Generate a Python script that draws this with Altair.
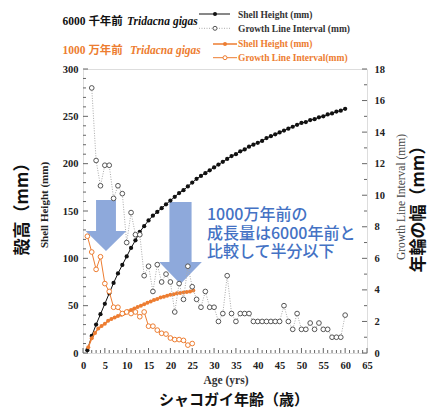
import altair as alt
import pandas as pd

# ---------------- data ----------------
ages_6000 = list(range(1, 61))
height_6000 = [3, 18, 30, 41, 52, 63, 74, 84, 93, 102,
               111, 119, 128, 134, 140, 145, 149, 153, 157, 161,
               165, 169, 172, 176, 180, 184, 187, 190, 193, 196,
               199, 202, 205, 208, 210, 213, 215, 218, 220, 222,
               224, 227, 229, 231, 233, 235, 237, 239, 241, 243,
               244, 246, 247, 249, 250, 252, 253, 255, 256, 258]

interval_ages_6000 = list(range(2, 61))
interval_6000 = [16.8, 12.2, 10.6, 11.9, 11.9, 9.8, 10.6, 10.1, 7.0, 8.9,
                 7.5, 7.5, 4.9, 5.5, 3.9, 5.6, 4.5, 5.0, 4.5, 2.6,
                 4.4, 3.4, 5.5, 4.2, 3.4, 2.9, 3.9, 2.9, 2.9, 2.0,
                 2.5, 4.9, 2.5, 2.0, 2.5, 2.5, 2.5, 2.0, 2.0, 2.0,
                 2.0, 2.0, 2.0, 2.0, 3.0, 2.0, 1.5, 2.5, 1.5, 1.5,
                 1.9, 1.5, 1.9, 1.5, 1.5, 1.0, 1.0, 1.0, 2.4]

ages_10m_height = [1.2, 2.0, 2.75, 3.5, 4.25, 5.0, 5.75, 6.5, 7.25, 8.0,
                   8.75, 9.5, 10.25, 11.0, 11.75, 12.5, 13.25, 14.0, 14.75, 15.5,
                   16.25, 17.0, 17.75, 18.5, 19.25, 20.0, 20.75, 21.5, 22.25, 23.0,
                   23.75, 24.5, 25.25]
height_10m = [6, 15.5, 21, 26, 28.5, 31, 34, 36, 37.5, 39,
              40.5, 42, 44, 45.5, 47, 48.5, 50, 51.5, 53, 54.5,
              56, 57, 58.5, 59.5, 60.5, 61.5, 62, 63, 63.5, 64,
              64.5, 65, 66]

ages_10m_interval = list(range(1, 26))
interval_10m = [7.4, 6.4, 5.3, 6.1, 4.4, 3.9, 2.9, 2.9, 2.5, 2.6,
                2.5, 2.6, 2.3, 2.6, 1.7, 1.7, 1.45, 1.25, 1.2, 0.95,
                0.85, 0.85, 0.8, 0.5, 0.6]

x_tick_labels = [0, 5, 10, 15, 20, 25, 30, 35, 40, 45, 50, 55, 60, 65]
left_tick_labels = [0, 50, 100, 150, 200, 250, 300]
right_tick_labels = [0, 2, 4, 6, 8, 10, 12, 14, 16, 18]

# ---------------- styling ----------------
W = H = 284
ORANGE = "#ED7D31"
BLUE_TXT = "#4472C4"
ARROW = "#8EA9DB"
SERIF = "Liberation Serif"
MIXED = "'Liberation Serif', 'Noto Sans CJK JP'"
CJK = "Noto Sans CJK JP"

xscale = alt.Scale(domain=[0, 65], nice=False, zero=False)
yl_scale = alt.Scale(domain=[0, 300], nice=False)
yr_scale = alt.Scale(domain=[0, 18], nice=False)

lab = dict(ticks=False, domain=False, grid=False, title=None,
           labelFont=SERIF, labelFontWeight="bold", labelFontSize=10.5,
           labelColor="#222", labelFlush=False, labelOverlap=False)
x_axis = alt.Axis(values=x_tick_labels, labelPadding=7, **lab)
yl_axis = alt.Axis(values=left_tick_labels, labelPadding=5, orient="left", **lab)
yr_axis = alt.Axis(values=right_tick_labels, labelPadding=7, orient="right", **lab)

X = alt.X("age:Q", scale=xscale, axis=x_axis)
YL = alt.Y("v:Q", scale=yl_scale, axis=yl_axis)
YR = alt.Y("v:Q", scale=yr_scale, axis=yr_axis)

one = pd.DataFrame({"k": [0]})


def series(df, yenc, line_color, line_width, dash, filled, pt_color, pt_size):
    base = alt.Chart(df).encode(x=X, y=yenc)
    kw = dict(color=line_color, strokeWidth=line_width)
    if dash:
        kw["strokeDash"] = dash
    ln = base.mark_line(**kw)
    if filled:
        pt = base.mark_point(filled=True, color=pt_color, size=pt_size, opacity=1)
    else:
        pt = base.mark_point(filled=False, fill="white", stroke=pt_color,
                             size=pt_size, strokeWidth=1, opacity=1)
    return [ln, pt]


def text(txt, x, y, size, font, weight="bold", color="#222", angle=0,
         align="left", italic=False):
    kw = dict(text=txt, font=font, fontSize=size, fontWeight=weight,
              color=color, align=align, baseline="middle")
    if angle:
        kw["angle"] = angle
    if italic:
        kw["fontStyle"] = "italic"
    return alt.Chart(one).mark_text(**kw).encode(x=alt.value(x), y=alt.value(y))


def arrow(cx, cy, shaft, head, base, size):
    path = (f"M{-shaft},-1L{shaft},-1L{shaft},{base}L{head},{base}L0,1"
            f"L{-head},{base}L{-shaft},{base}Z")
    return alt.Chart(one).mark_point(shape=path, filled=True, size=size,
                                     color=ARROW, opacity=1, strokeWidth=0).encode(
        x=alt.value(cx), y=alt.value(cy))


def hrule(x1, x2, y, color, width=1, dash=None):
    kw = dict(color=color, strokeWidth=width)
    if dash:
        kw["strokeDash"] = dash
    return alt.Chart(one).mark_rule(**kw).encode(
        x=alt.value(x1), x2=alt.value(x2), y=alt.value(y))


def marker(x, y, color, filled, size=22):
    if filled:
        m = alt.Chart(one).mark_point(filled=True, color=color, size=size, opacity=1)
    else:
        m = alt.Chart(one).mark_point(filled=False, fill="white", stroke=color,
                                      size=size, strokeWidth=1, opacity=1)
    return m.encode(x=alt.value(x), y=alt.value(y))


# ---------------- frames ----------------
df_h6 = pd.DataFrame({"age": ages_6000, "v": height_6000})
df_i6 = pd.DataFrame({"age": interval_ages_6000, "v": interval_6000})
df_h10 = pd.DataFrame({"age": ages_10m_height, "v": height_10m})
df_i10 = pd.DataFrame({"age": ages_10m_interval, "v": interval_10m})

# inward ticks drawn through the scales
xt_minor = pd.DataFrame({"age": [t for t in range(0, 66) if t % 5]})
xt_major = pd.DataFrame({"age": [t for t in range(0, 66, 5)]})
yl_minor = pd.DataFrame({"v": [t for t in range(0, 301, 10) if t % 50]})
yl_major = pd.DataFrame({"v": list(range(0, 301, 50))})
yr_minor = pd.DataFrame({"v": [t for t in range(0, 19) if t % 2]})
yr_major = pd.DataFrame({"v": list(range(0, 19, 2))})

tick_col = "#666"
xt1 = alt.Chart(xt_minor).mark_rule(color=tick_col).encode(x=X, y=alt.value(H), y2=alt.value(H - 3))
xt2 = alt.Chart(xt_major).mark_rule(color=tick_col).encode(x=X, y=alt.value(H), y2=alt.value(H - 5))
ylt1 = alt.Chart(yl_minor).mark_rule(color=tick_col).encode(y=YL, x=alt.value(0), x2=alt.value(3))
ylt2 = alt.Chart(yl_major).mark_rule(color=tick_col).encode(y=YL, x=alt.value(0), x2=alt.value(5))
yrt1 = alt.Chart(yr_minor).mark_rule(color=tick_col).encode(y=YR, x=alt.value(W), x2=alt.value(W - 3))
yrt2 = alt.Chart(yr_major).mark_rule(color=tick_col).encode(y=YR, x=alt.value(W), x2=alt.value(W - 5))

left = alt.layer(
    ylt1, ylt2, xt1, xt2,
    *series(df_h6, YL, "#111", 1, None, True, "#111", 18),
    *series(df_h10, YL, ORANGE, 1.5, None, True, ORANGE, 16),
)
right = alt.layer(
    yrt1, yrt2,
    *series(df_i6, YR, "#aaa", 1, [1, 1.5], False, "#555", 22),
    *series(df_i10, YR, ORANGE, 1, None, False, ORANGE, 22),
)
data_layers = alt.layer(left, right).resolve_scale(y="independent")

# ---------------- annotations ----------------
arrows = [
    arrow(23, 156.5, 0.39, 0.80, 0.216, 2601),
    arrow(97.5, 174, 0.27, 0.52, 0.463, 6724),
]

notes = [
    text("1000万年前の", 124, 146, 16, CJK, weight=500, color=BLUE_TXT),
    text("成長量は6000年前と", 124, 164.5, 16, CJK, weight=500, color=BLUE_TXT),
    text("比較して半分以下", 124, 183, 16, CJK, weight=500, color=BLUE_TXT),
    # axis titles
    text("殻高（mm）", -60, 136, 17, CJK, color="#111", angle=270, align="center"),
    text("Shell Height (mm)", -38, 136, 11, SERIF, color="#222", angle=270, align="center"),
    text("Growth Line Interval (mm)", 319, 128, 11.5, SERIF, weight="normal",
         color="#444", angle=270, align="center"),
    text("年輪の幅（mm）", 336, 136, 17, CJK, color="#111", angle=270, align="center"),
    text("Age (yrs)", 143, 311.5, 11.5, SERIF, color="#333", align="center"),
    text("シャコガイ年齢（歳）", 151, 331, 15, CJK, color="#111", align="center"),
    # legend block: 6000 years
    text("6000 千年前", -20.5, -47.3, 11.5, MIXED, color="#111"),
    text("Tridacna gigas", 44, -47.3, 11.5, SERIF, color="#111", italic=True),
    hrule(116, 147, -55, "#111"),
    marker(132, -55, "#111", True, 16),
    text("Shell Height (mm)", 155, -54.3, 9.5, SERIF, color="#333"),
    hrule(116, 147, -40.7, "#aaa", 1, [1, 1.5]),
    marker(132, -40.7, "#555", False, 16),
    text("Growth Line Interval (mm)", 155, -40, 9.5, SERIF, color="#333"),
    # legend block: 10 million years
    text("1000 万年前", -20.5, -18.3, 11.5, MIXED, color=ORANGE),
    text("Tridacna gigas", 47, -18.3, 11.5, SERIF, color=ORANGE, italic=True),
    hrule(130, 154, -25, ORANGE, 1.5),
    marker(142, -25, ORANGE, True, 16),
    text("Shell Height (mm)", 155, -25, 9.5, SERIF, color=ORANGE),
    hrule(130, 154, -11.3, ORANGE, 1),
    marker(142, -11.3, ORANGE, False, 16),
    text("Growth Line Interval(mm)", 155, -11.3, 9.5, SERIF, color=ORANGE),
]

chart = alt.layer(*arrows, data_layers, *notes).properties(
    width=W, height=H,
    padding={"left": 75, "top": 61, "right": 61, "bottom": 55},
    autosize=alt.AutoSizeParams(type="none"),
).configure_view(
    stroke="#666", strokeWidth=1
).configure_axis(
    labelFont=SERIF, labelFontWeight="bold", labelFontSize=10.5, labelColor="#222"
).configure(background="white")

chart.save("out.html", embed_options={"renderer": "svg", "actions": False})
